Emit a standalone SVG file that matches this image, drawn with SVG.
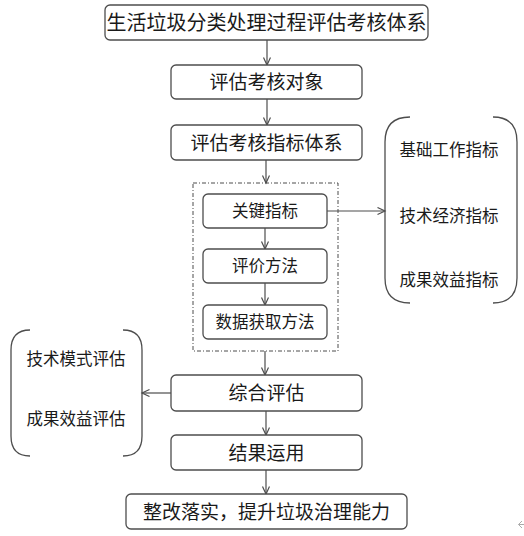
<svg xmlns="http://www.w3.org/2000/svg" width="524" height="536" viewBox="0 0 524 536">
<defs>
<style>
.box{fill:#fff;stroke:#4d4d4d;stroke-width:1.3}
.t{font-family:"Noto Sans CJK SC","Microsoft YaHei",sans-serif;fill:#1a1a1a;text-anchor:middle;font-weight:400}
.lg{font-size:19px}
.sm{font-size:16.5px}
.con{stroke:#4d4d4d;stroke-width:1.2;fill:none}
.br{stroke:#4d4d4d;stroke-width:1.3;fill:none}
</style>
<marker id="ah" markerWidth="10" markerHeight="10" refX="8" refY="4" orient="auto" markerUnits="userSpaceOnUse">
<path d="M0.5,0.5 L8,4 L0.5,7.5" fill="none" stroke="#4d4d4d" stroke-width="1.2"/>
</marker>
</defs>
<rect width="524" height="536" fill="#fff"/>
<g id="connectors">
<line class="con" x1="267" y1="40" x2="267" y2="65" marker-end="url(#ah)"/>
<line class="con" x1="267" y1="99" x2="267" y2="125" marker-end="url(#ah)"/>
<line class="con" x1="266" y1="160" x2="266" y2="183" marker-end="url(#ah)"/>
<line class="con" x1="265" y1="228" x2="265" y2="249" marker-end="url(#ah)"/>
<line class="con" x1="265" y1="283" x2="265" y2="305" marker-end="url(#ah)"/>
<line class="con" x1="265" y1="351" x2="265" y2="375" marker-end="url(#ah)"/>
<line class="con" x1="266" y1="411" x2="266" y2="435" marker-end="url(#ah)"/>
<line class="con" x1="266" y1="470" x2="266" y2="494" marker-end="url(#ah)"/>
<line class="con" x1="327" y1="211" x2="385" y2="211" marker-end="url(#ah)"/>
<line class="con" x1="171" y1="393" x2="142" y2="393" marker-end="url(#ah)"/>
</g>
<g id="title">
<rect class="box" x="105" y="5" width="323" height="35" rx="5"/>
<text class="t" x="266.5" y="30" font-size="20">生活垃圾分类处理过程评估考核体系</text>
</g>
<g id="object">
<rect class="box" x="171" y="65" width="191" height="34" rx="5"/>
<text class="t lg" x="266.5" y="89">评估考核对象</text>
</g>
<g id="system">
<rect class="box" x="171" y="125" width="191" height="35" rx="5"/>
<text class="t lg" x="266.5" y="149.5">评估考核指标体系</text>
</g>
<g id="group">
<rect x="193" y="183" width="145" height="168" fill="none" stroke="#4d4d4d" stroke-width="1" stroke-dasharray="4 2 1 2"/>
</g>
<g id="key">
<rect class="box" x="203" y="194" width="124" height="34" rx="5"/>
<text class="t sm" x="265" y="217">关键指标</text>
</g>
<g id="method">
<rect class="box" x="203" y="249" width="124" height="34" rx="5"/>
<text class="t sm" x="265" y="272">评价方法</text>
</g>
<g id="data">
<rect class="box" x="203" y="305" width="124" height="34" rx="5"/>
<text class="t sm" x="265" y="328">数据获取方法</text>
</g>
<g id="indicators">
<path class="br" d="M410,117 Q385,117 385,142 L385,278 Q385,303 410,303"/>
<path class="br" d="M493,117 Q517,117 517,142 L517,278 Q517,303 493,303"/>
<text class="t sm" x="449" y="156">基础工作指标</text>
<text class="t sm" x="449" y="222">技术经济指标</text>
<text class="t sm" x="449" y="286">成果效益指标</text>
</g>
<g id="evals">
<path class="br" d="M30,330 Q11,330 11,350 L11,436 Q11,456 30,456"/>
<path class="br" d="M123,330 Q142,330 142,350 L142,436 Q142,456 123,456"/>
<text class="t sm" x="76" y="365">技术模式评估</text>
<text class="t sm" x="76" y="425">成果效益评估</text>
</g>
<g id="overall">
<rect class="box" x="171" y="375" width="191" height="36" rx="5"/>
<text class="t lg" x="266.5" y="400">综合评估</text>
</g>
<g id="use">
<rect class="box" x="171" y="435" width="191" height="35" rx="5"/>
<text class="t lg" x="266.5" y="459.5">结果运用</text>
</g>
<g id="final">
<rect class="box" x="126" y="494" width="281" height="35" rx="5"/>
<text class="t lg" x="266.5" y="518.5">整改落实，提升垃圾治理能力</text>
</g>
<path d="M522,521 L518.5,524.5 L522,528 M518.5,524.5 L524,524.5" fill="none" stroke="#aaa" stroke-width="1"/>
</svg>
